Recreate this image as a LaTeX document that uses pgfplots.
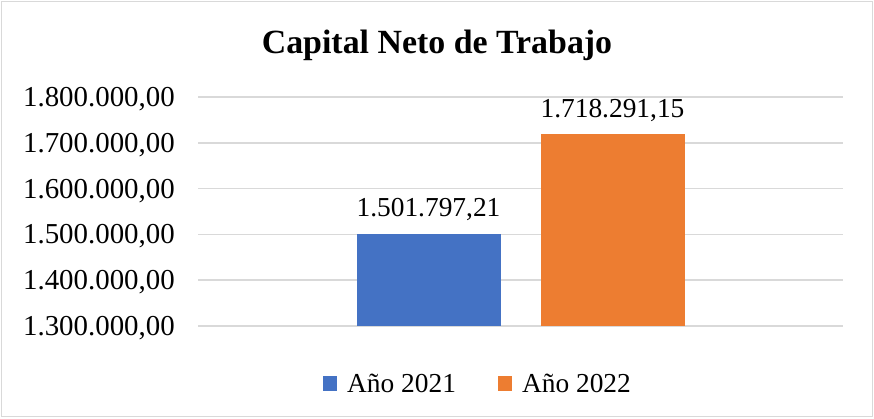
\documentclass[border=0pt]{standalone}
\usepackage{pgfplots}
\pgfplotsset{compat=1.18}
\usepackage{fontspec}
\setmainfont{Liberation Serif}
\definecolor{cblue}{HTML}{4472C4}
\definecolor{corange}{HTML}{ED7D31}
\definecolor{gridgray}{HTML}{D9D9D9}
\newcommand{\lblfont}{\fontsize{27.5}{30}\selectfont}
\newcommand{\tickfont}{\fontsize{29}{31}\selectfont}
\begin{document}
\begin{tikzpicture}[x=1bp,y=1bp]
\path (0,0) rectangle (874,418);
\draw[gridgray, line width=1.2bp] (1.5,1.5) rectangle (872.5,416.5);
\node[font=\bfseries\fontsize{34}{36}\selectfont, anchor=base, inner sep=0pt] at (437,365) {Capital Neto de Trabajo};
\begin{axis}[
  at={(198bp,92bp)}, anchor=south west,
  scale only axis, width=645bp, height=229bp,
  xmin=-1, xmax=1, ymin=1300000, ymax=1800000,
  ytick={1300000,1400000,1500000,1600000,1700000,1800000},
  xtick=\empty,
  ymajorgrids, grid style={gridgray, line width=1.5bp},
  axis line style={draw=none},
  major tick length=0pt,
  scaled y ticks=false,
  yticklabel style={/pgf/number format/fixed, /pgf/number format/fixed zerofill,
    /pgf/number format/precision=2, /pgf/number format/1000 sep={.},
    /pgf/number format/use comma, /pgf/number format/assume math mode=true,
    font=\tickfont, anchor=base east, inner sep=0pt, xshift=-23bp, yshift=-9.5bp},
  ybar=40bp, bar width=144bp,
  nodes near coords, point meta=explicit symbolic,
  nodes near coords style={font=\lblfont, anchor=base, inner sep=0pt, yshift=17bp},
  legend style={draw=none, fill=none, at={(0.1938,-0.253)}, anchor=west,
    legend columns=2, font=\lblfont, inner sep=0pt, column sep=10bp,
    nodes={inner sep=0pt},
    /tikz/every even column/.append style={column sep=42bp}},
  legend image code/.code={\fill[#1] (0bp,-7.5bp) rectangle (14bp,7.5bp);},
]
\addplot[fill=cblue, draw=none] coordinates {(0,1501797.21) [1.501.797,21]};
\addplot[fill=corange, draw=none] coordinates {(0,1718291.15) [1.718.291,15]};
\legend{Año 2021, Año 2022}
\end{axis}
\end{tikzpicture}
\end{document}
